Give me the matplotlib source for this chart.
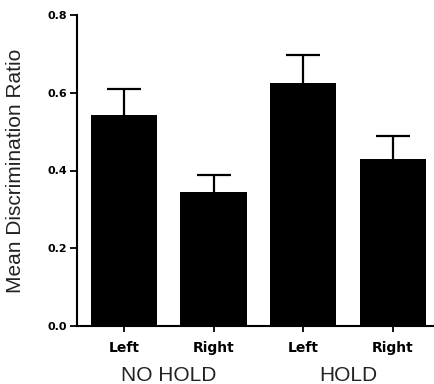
import matplotlib
matplotlib.use("Agg")
import matplotlib.pyplot as plt

# data
sides = ["Left", "Right", "Left", "Right"]
groups = ["NO HOLD", "HOLD"]
means = [0.543, 0.345, 0.624, 0.429]
sem = [0.066, 0.044, 0.074, 0.061]
y_ticks = [0.0, 0.2, 0.4, 0.6, 0.8]

fig = plt.figure(figsize=(4.34, 3.84), dpi=100)
ax = fig.add_axes([77 / 434, 58 / 384, 356 / 434, 311 / 384])

x = list(range(len(means)))
ax.bar(x, means, width=0.74, color="black", zorder=2)
eb = ax.errorbar(x, means, yerr=[[0] * len(sem), sem], fmt="none",
                 ecolor="black", elinewidth=1.6, capsize=12, capthick=1.6, zorder=1)
# only the upper cap is drawn in the original
eb[1][0].set_visible(False)

ax.set_xlim(-0.525, 3.45)
ax.set_ylim(0, 0.8)
ax.set_yticks(y_ticks)
ax.set_yticklabels(["%.1f" % v for v in y_ticks], fontsize=8, fontweight="bold",
                   family="DejaVu Sans")
ax.set_xticks(x)
ax.set_xticklabels(sides, fontsize=10, fontweight="bold", family="DejaVu Sans")

for s in ["top", "right"]:
    ax.spines[s].set_visible(False)
for s in ["left", "bottom"]:
    ax.spines[s].set_linewidth(1.5)
ax.tick_params(axis="y", direction="out", length=5, width=1.3, pad=2)
ax.tick_params(axis="x", direction="out", length=4, width=1.3, pad=7)

ax.set_ylabel("Mean Discrimination Ratio", fontsize=15, color="#222222",
              family="Liberation Sans")
ax.yaxis.set_label_coords(-52 / 356, 0.5)

for i, g in enumerate(groups):
    ax.text(2 * i + 0.5, -0.141, g, ha="center", va="baseline", fontsize=15,
            color="#222222", family="Liberation Sans")

fig.savefig("out.png", dpi=100)
